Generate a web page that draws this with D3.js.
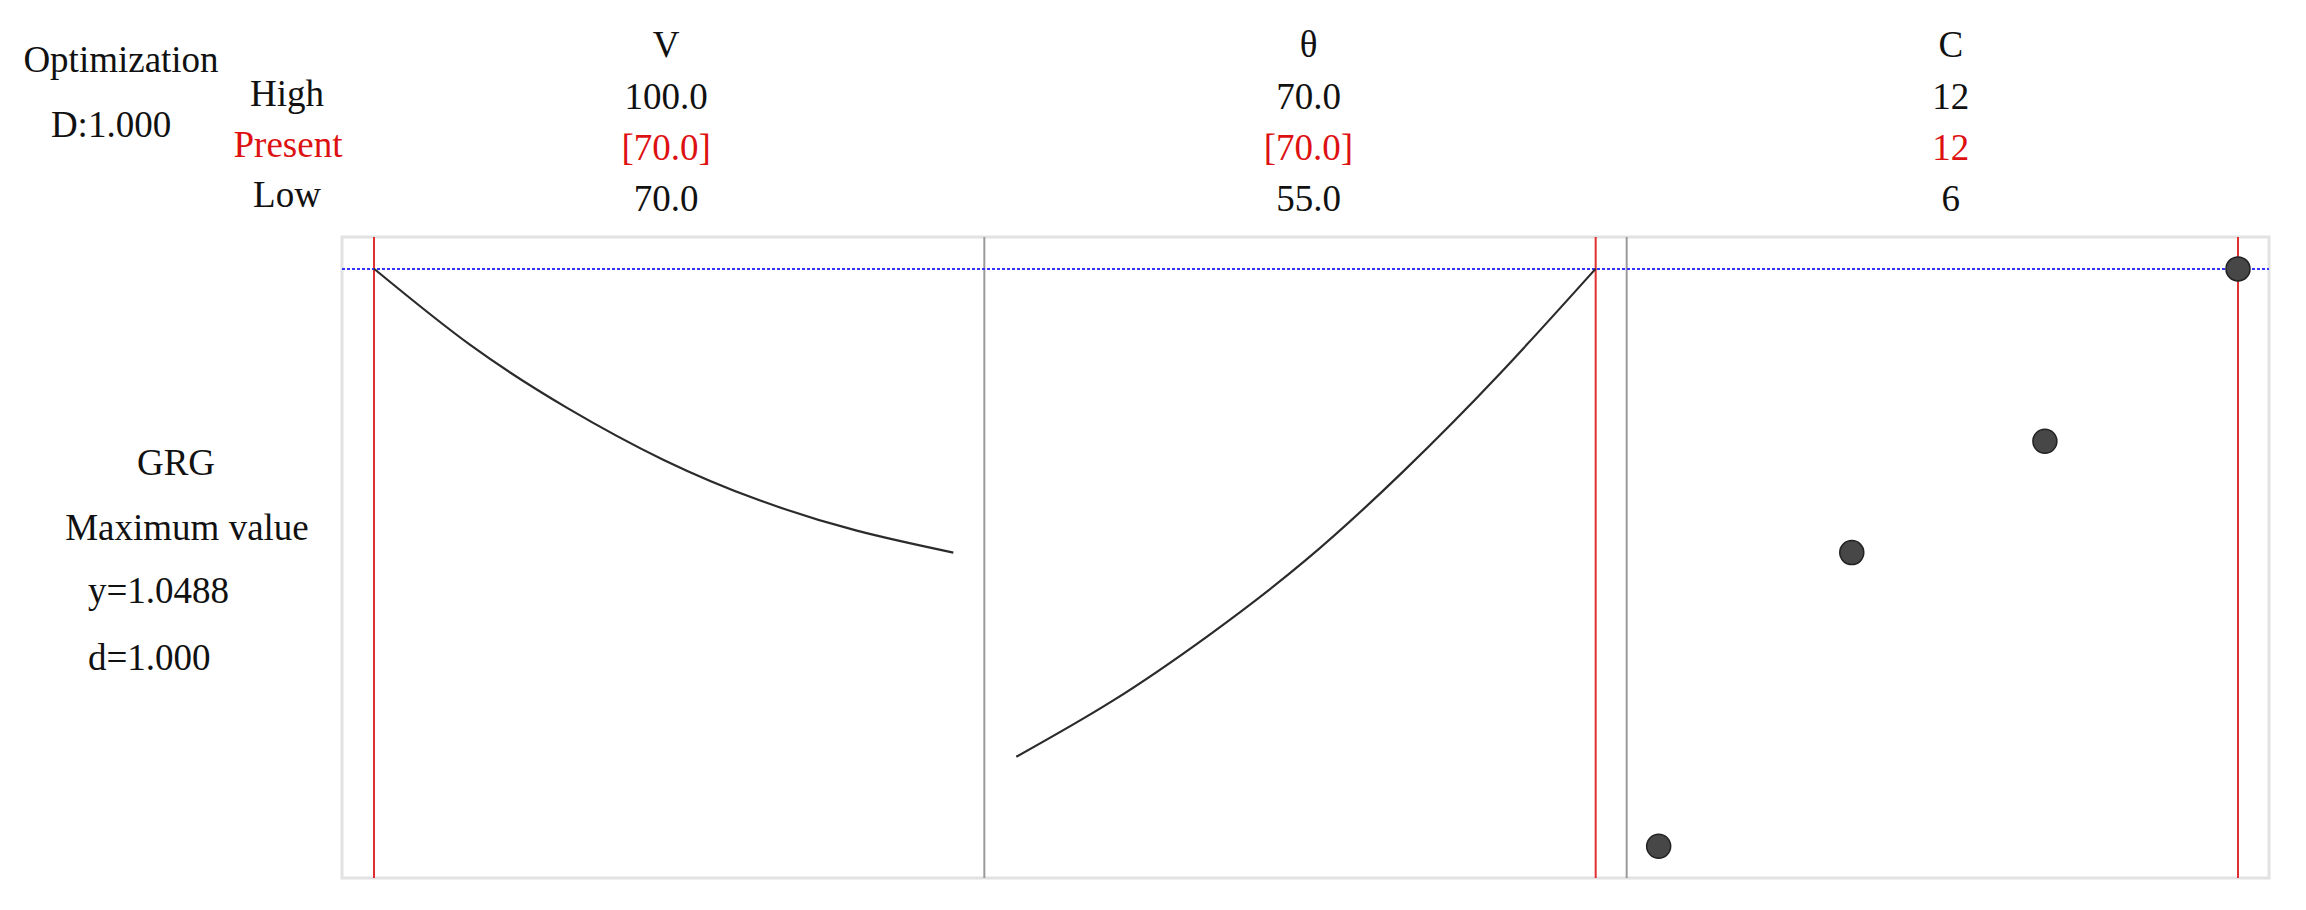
<!DOCTYPE html>
<html>
<head>
<meta charset="utf-8">
<script src="https://cdn.jsdelivr.net/npm/d3@7"></script>
<style>
  html, body { margin: 0; padding: 0; background: #fff; }
  svg text { font-family: "Liberation Serif", "Times New Roman", serif; font-size: 37px; fill: #111; }
</style>
</head>
<body>
<div id="chart"></div>
<script>
var width = 2306, height = 910;

// factors shown across the top
var factors = ["V", "θ", "C"];
var highs = [100, 70, 12];
var lows = [70, 55, 6];
var present = [70, 70, 12];
var highLabels = ["100.0", "70.0", "12"];
var presentLabels = ["[70.0]", "[70.0]", "12"];
var lowLabels = ["70.0", "55.0", "6"];

// response curves (GRG)
var vValues = [70, 75, 80, 85, 90, 95, 100];
var vGrg = [1.049, 0.955, 0.878, 0.814, 0.764, 0.727, 0.700];
var thetaValues = [55, 57.5, 60, 62.5, 65, 67.5, 70];
var thetaGrg = [0.449, 0.518, 0.599, 0.691, 0.799, 0.919, 1.049];
var cValues = [6, 8, 10, 12];
var cGrg = [0.339, 0.700, 0.837, 1.0488];

var optimum = 1.0488;

var plot = {left: 342, right: 2269, top: 237, bottom: 878};
var panelW = (plot.right - plot.left) / 3;

var svg = d3.select("#chart").append("svg").attr("width", width).attr("height", height);

var y = d3.scaleLinear().domain([0.3, 1.088]).range([plot.bottom, plot.top]);

var xScales = factors.map(function(f, i){
    var l = plot.left + i * panelW;
    return d3.scaleLinear().domain([lows[i], highs[i]]).range([l + 32, l + panelW - 31]);
});

// outer frame
svg.append("rect")
    .attr("x", plot.left).attr("y", plot.top)
    .attr("width", plot.right - plot.left).attr("height", plot.bottom - plot.top)
    .attr("fill", "none").attr("stroke", "#e2e2e2").attr("stroke-width", 3);

// dividers between panels
[1, 2].forEach(function(i){
    svg.append("line")
        .attr("x1", plot.left + i * panelW).attr("x2", plot.left + i * panelW)
        .attr("y1", plot.top).attr("y2", plot.bottom)
        .attr("stroke", "#9a9a9a").attr("stroke-width", 2);
});

// present setting (red)
factors.forEach(function(f, i){
    var px = xScales[i](present[i]);
    svg.append("line")
        .attr("x1", px).attr("x2", px)
        .attr("y1", plot.top).attr("y2", plot.bottom)
        .attr("stroke", "#e03030").attr("stroke-width", 2);
});

// optimum response (blue dashed)
svg.append("line")
    .attr("x1", plot.left).attr("x2", plot.right)
    .attr("y1", y(optimum)).attr("y2", y(optimum))
    .attr("stroke", "#3333ff").attr("stroke-width", 2)
    .attr("stroke-dasharray", "3,2");

function drawCurve(xs, ys, scale){
    var line = d3.line()
        .x(function(d){ return scale(d[0]); })
        .y(function(d){ return y(d[1]); })
        .curve(d3.curveNatural);
    svg.append("path")
        .datum(d3.zip(xs, ys))
        .attr("d", line)
        .attr("fill", "none").attr("stroke", "#2b2b2b").attr("stroke-width", 2.2);
}

drawCurve(vValues, vGrg, xScales[0]);
drawCurve(thetaValues, thetaGrg, xScales[1]);

svg.selectAll("circle.pt")
    .data(d3.zip(cValues, cGrg))
    .enter().append("circle")
    .attr("class", "pt")
    .attr("cx", function(d){ return xScales[2](d[0]); })
    .attr("cy", function(d){ return y(d[1]); })
    .attr("r", 12)
    .attr("fill", "#474747").attr("stroke", "#222").attr("stroke-width", 1.5);

// header table
factors.forEach(function(f, i){
    var cx = plot.left + i * panelW + panelW / 2 + 3;
    svg.append("text").attr("x", cx).attr("y", 57).attr("text-anchor", "middle").text(f);
    svg.append("text").attr("x", cx).attr("y", 109).attr("text-anchor", "middle").text(highLabels[i]);
    svg.append("text").attr("x", cx).attr("y", 160).attr("text-anchor", "middle")
        .style("fill", "#dd1111").text(presentLabels[i]);
    svg.append("text").attr("x", cx).attr("y", 211).attr("text-anchor", "middle").text(lowLabels[i]);
});

svg.append("text").attr("x", 121).attr("y", 72).attr("text-anchor", "middle").text("Optimization");
svg.append("text").attr("x", 111).attr("y", 137).attr("text-anchor", "middle").text("D:1.000");
svg.append("text").attr("x", 287).attr("y", 106).attr("text-anchor", "middle").text("High");
svg.append("text").attr("x", 288).attr("y", 157).attr("text-anchor", "middle")
    .style("fill", "#dd1111").text("Present");
svg.append("text").attr("x", 287).attr("y", 207).attr("text-anchor", "middle").text("Low");

svg.append("text").attr("x", 176).attr("y", 475).attr("text-anchor", "middle").text("GRG");
svg.append("text").attr("x", 187).attr("y", 540).attr("text-anchor", "middle").text("Maximum value");
svg.append("text").attr("x", 88).attr("y", 603).text("y=" + optimum.toFixed(4));
svg.append("text").attr("x", 88).attr("y", 670).text("d=1.000");
</script>
</body>
</html>
